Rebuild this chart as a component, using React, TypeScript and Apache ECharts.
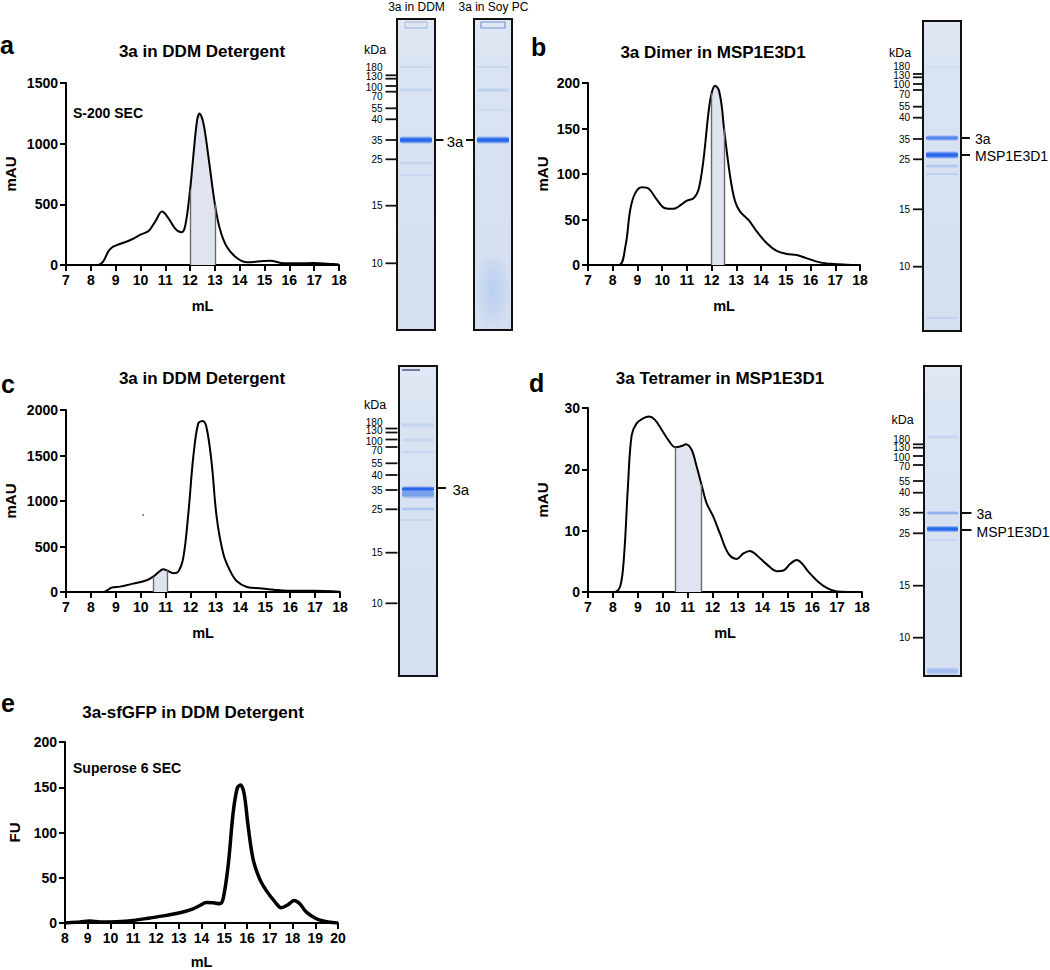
import React, { useEffect, useRef } from 'react';
import * as echarts from 'echarts';

const FONT = '"Liberation Sans", Arial, Helvetica, sans-serif';

// ---------- DATA ----------
const panelLetters = ['a', 'b', 'c', 'd', 'e'];
const panelTitles = ['3a in DDM Detergent', '3a Dimer in MSP1E3D1', '3a in DDM Detergent', '3a Tetramer in MSP1E3D1', '3a-sfGFP in DDM Detergent'];
const yAxisNames = ['mAU', 'mAU', 'mAU', 'mAU', 'FU'];
const xAxisName = 'mL';
const columnNotes = ['S-200 SEC', 'Superose 6 SEC'];

const volA = [7, 8, 8.3, 8.5, 8.7, 8.85, 9, 9.6, 10, 10.33, 10.6, 10.87, 11.13, 11.4, 11.64, 11.8, 12, 12.14, 12.28, 12.38, 12.54, 12.74, 13, 13.21, 13.48, 13.9, 14.3, 14.96, 15.23, 15.77, 16.4, 16.97, 17.78, 18];
const mauA = [0, 0, 0, 30, 110, 145, 160, 206, 250, 280, 360, 440, 385, 300, 270, 320, 620, 920, 1190, 1248, 1165, 890, 500, 290, 150, 55, 22, 33, 36, 14, 14, 16, 8, 5];

const volB = [7, 8.24, 8.51, 8.71, 8.91, 9.18, 9.45, 9.79, 10.12, 10.46, 10.8, 11, 11.27, 11.47, 11.67, 11.87, 12, 12.14, 12.28, 12.41, 12.5, 12.75, 12.95, 13.15, 13.49, 13.83, 14.23, 14.63, 15.04, 15.44, 15.85, 16.38, 16.92, 17.46, 18];
const mauB = [0, 0, 20, 61, 79, 85.5, 84, 71.6, 62.4, 61.7, 67, 70.8, 73.4, 82.6, 115.6, 167, 189, 197, 193, 174, 150, 97, 69.7, 58.7, 49.5, 36.7, 23.9, 15.4, 12.1, 11, 7.3, 2.9, 1.1, 0.4, 0];

const volC = [7, 8.5, 8.83, 9.17, 9.7, 10.24, 10.5, 10.7, 10.9, 11.05, 11.31, 11.51, 11.71, 11.91, 12.11, 12.31, 12.49, 12.65, 12.85, 13.05, 13.32, 13.59, 13.85, 14.26, 14.79, 15.33, 15.86, 16.93, 18];
const mauC = [0, 0, 48, 59, 92, 129, 169, 214, 250, 238, 206, 225, 379, 858, 1484, 1853, 1878, 1797, 1411, 821, 416, 232, 121, 55, 40, 26, 15, 15, 4];

const volD = [7, 8.07, 8.3, 8.45, 8.6, 8.75, 8.95, 9.21, 9.45, 9.68, 9.95, 10.22, 10.5, 10.76, 10.93, 11.16, 11.36, 11.55, 11.76, 12.03, 12.3, 12.63, 12.97, 13.24, 13.5, 13.77, 14.18, 14.58, 14.85, 15.12, 15.38, 15.58, 15.85, 16.26, 16.66, 17, 18];
const mauD = [0, 0, 1, 6, 17, 25.5, 27.5, 28.3, 28.6, 28.1, 26.5, 24.8, 23.6, 23.8, 24.1, 23.2, 20.5, 17.6, 14.5, 12.3, 9.5, 6.3, 5.4, 6.3, 6.7, 6.0, 4.5, 3.4, 3.5, 4.6, 5.2, 4.7, 3.3, 1.6, 0.5, 0.1, 0];

const volE = [8, 8.5, 9.1, 9.54, 10.27, 11, 11.73, 12.46, 13.05, 13.63, 13.93, 14.22, 14.51, 14.8, 14.95, 15.17, 15.39, 15.57, 15.71, 15.87, 16.05, 16.27, 16.56, 16.85, 17.22, 17.51, 17.8, 18.07, 18.32, 18.61, 19.05, 19.56, 20];
const fuE = [0, 0.7, 2.2, 1.1, 1.5, 2.9, 5.5, 8.4, 11.3, 15.7, 19.3, 22.6, 22.3, 21.2, 26.6, 63.1, 121.5, 148.9, 152.6, 143.4, 106.9, 70.4, 48.5, 35.8, 23.7, 16.8, 20.1, 24.8, 21.2, 12, 4.7, 1.1, 0];

// collected fraction ranges (mL)
const fractionA = [12, 13];
const fractionB = [12, 12.5];
const fractionC = [10.5, 11.05];
const fractionD = [10.5, 11.55];

// axis ranges
const yMaxes = [1500, 200, 2000, 30, 200];
const yIntervals = [500, 50, 500, 10, 50];
const xMins = [7, 7, 7, 7, 8];
const xMaxes = [18, 18, 18, 18, 20];

// gel marker ladder
const ladderKDa = ['180', '130', '100', '70', '55', '40', '35', '25', '15', '10'];
const laneTitles = ['3a in DDM', '3a in Soy PC'];
const bandNames = ['3a', 'MSP1E3D1'];

// ---------- LAYOUT ----------
const grids = [
  { left: 66, top: 83, width: 273, height: 182 },
  { left: 588, top: 83, width: 272, height: 182 },
  { left: 66, top: 410, width: 274, height: 182 },
  { left: 588, top: 408, width: 274, height: 184 },
  { left: 65, top: 742, width: 273, height: 182 },
];
const yNameGaps = [48, 38, 48, 38, 43];
const xNameGaps = [33, 33, 33, 33, 31];
const lineWidths = [2, 2, 2, 2, 3.5];
const titlePos = [[202, 51], [713, 52], [202, 378], [720, 378], [193, 712]];
const letterPos = [[0, 45], [531, 47], [1, 384], [529, 383], [1, 703]];

const zip = (xs: number[], ys: number[]) => xs.map((x, i) => [x, ys[i]]);
const yAt = (xs: number[], ys: number[], x: number) => ys[xs.indexOf(x)];

function txt(x: number, y: number, s: string, size: number, opts: any = {}) {
  const align = opts.align || 'center';
  const va = opts.va || 'middle';
  return {
    type: 'text', x, y, silent: true, z: 10,
    style: {
      text: s, fill: opts.color || '#000',
      font: `${opts.weight || 'normal'} ${size}px ${FONT}`,
      align, textAlign: align, verticalAlign: va, textVerticalAlign: va,
    },
  };
}
function seg(x1: number, y1: number, x2: number, y2: number, w = 1.6, color = '#111') {
  return { type: 'line', silent: true, z: 10, shape: { x1, y1, x2, y2 }, style: { stroke: color, lineWidth: w } };
}
function band(x: number, w: number, y: number, h: number, alpha: number, rgb = '40,105,235') {
  return {
    type: 'rect', silent: true, z: 6,
    shape: { x: x + 3, y: y - h / 2, width: w - 6, height: h, r: h / 2.5 },
    style: {
      fill: new echarts.graphic.LinearGradient(0, 0, 0, 1, [
        { offset: 0, color: `rgba(${rgb},0)` },
        { offset: 0.35, color: `rgba(${rgb},${alpha})` },
        { offset: 0.65, color: `rgba(${rgb},${alpha})` },
        { offset: 1, color: `rgba(${rgb},0)` },
      ]),
    },
  };
}
function lane(x: number, y: number, w: number, h: number, bands: number[][], extra: any[] = []) {
  const els: any[] = [
    {
      type: 'rect', silent: true, z: 5, shape: { x, y, width: w, height: h },
      style: {
        fill: new echarts.graphic.LinearGradient(0, 0, 0, 1, [
          { offset: 0, color: '#e1e8f4' },
          { offset: 0.15, color: '#dae3f2' },
          { offset: 1, color: '#d5dff0' },
        ]),
      },
    },
  ];
  bands.forEach((b) => els.push(band(x, w, b[0], b[1], b[2])));
  extra.forEach((e) => els.push(e));
  els.push({ type: 'rect', silent: true, z: 8, shape: { x, y, width: w, height: h }, style: { fill: 'none', stroke: '#111', lineWidth: 2 } });
  return els;
}
function ladder(labelRight: number, tickX1: number, tickX2: number, labelYs: number[], tickYs: number[], kdaX: number, kdaY: number) {
  const els: any[] = [txt(kdaX, kdaY, 'kDa', 12.5, { align: 'left' })];
  ladderKDa.forEach((k, i) => els.push(txt(labelRight, labelYs[i], k, 10, { align: 'right' })));
  tickYs.forEach((ty) => els.push(seg(tickX1, ty, tickX2, ty, 1.8)));
  return els;
}

function buildOption() {
  const datasets = [zip(volA, mauA), zip(volB, mauB), zip(volC, mauC), zip(volD, mauD), zip(volE, fuE)];
  const fractions = [fractionA, fractionB, fractionC, fractionD];
  const fx = [volA, volB, volC, volD];
  const fy = [mauA, mauB, mauC, mauD];

  const axisText = { color: '#000', fontFamily: FONT, fontWeight: 'bold', fontSize: 14, formatter: (v: number) => String(v) };
  const nameText = { color: '#000', fontFamily: FONT, fontWeight: 'bold', fontSize: 14.5 };
  const axisLine = { show: true, onZero: false, lineStyle: { color: '#000', width: 2 } };
  const axisTick = { show: true, length: 6, lineStyle: { color: '#000', width: 2 } };

  const xAxis = grids.map((_, i) => ({
    type: 'value', gridIndex: i, min: xMins[i], max: xMaxes[i], interval: 1,
    name: xAxisName, nameLocation: 'middle', nameGap: xNameGaps[i], nameTextStyle: nameText,
    axisLine, axisTick, axisLabel: { ...axisText, margin: 8 }, splitLine: { show: false },
  }));
  const yAxis = grids.map((_, i) => ({
    type: 'value', gridIndex: i, min: 0, max: yMaxes[i], interval: yIntervals[i],
    name: yAxisNames[i], nameLocation: 'middle', nameGap: yNameGaps[i], nameTextStyle: { ...nameText, fontSize: 15 },
    axisLine, axisTick, axisLabel: { ...axisText, margin: 8 }, splitLine: { show: false },
  }));

  const series: any[] = [];
  const visualMap: any[] = [];
  for (let i = 0; i < 5; i++) {
    if (i < 4) {
      const [f1, f2] = fractions[i];
      visualMap.push({
        type: 'piecewise', show: false, dimension: 0, seriesIndex: series.length,
        pieces: [{ gte: f1, lte: f2, color: '#dfe4f0' }],
        outOfRange: { color: 'rgba(255,255,255,0)' },
      });
      series.push({
        type: 'line', xAxisIndex: i, yAxisIndex: i, data: datasets[i], smooth: 0.35,
        symbol: 'none', lineStyle: { width: 0 }, areaStyle: { opacity: 1 }, z: 1, silent: true,
        markLine: {
          silent: true, symbol: ['none', 'none'], label: { show: false }, animation: false,
          lineStyle: { color: '#6a6a6a', width: 1.4, type: 'solid' },
          data: [
            [{ coord: [f1, 0] }, { coord: [f1, yAt(fx[i], fy[i], f1)] }],
            [{ coord: [f2, 0] }, { coord: [f2, yAt(fx[i], fy[i], f2)] }],
          ],
        },
      });
    }
    series.push({
      type: 'line', xAxisIndex: i, yAxisIndex: i, data: datasets[i], smooth: 0.35,
      symbol: 'none', lineStyle: { color: '#000', width: lineWidths[i] }, z: 3, silent: true,
      itemStyle: { color: '#000' },
    });
  }

  const graphic: any[] = [];
  panelTitles.forEach((t, i) => graphic.push(txt(titlePos[i][0], titlePos[i][1], t, 17, { weight: 'bold' })));
  panelLetters.forEach((l, i) => graphic.push(txt(letterPos[i][0], letterPos[i][1], l, 25, { weight: 'bold', align: 'left' })));
  graphic.push(txt(73, 113, columnNotes[0], 14, { weight: 'bold', align: 'left' }));
  graphic.push(txt(73, 768, columnNotes[1], 14, { weight: 'bold', align: 'left' }));
  graphic.push({ type: 'circle', silent: true, shape: { cx: 143, cy: 515, r: 0.8 }, style: { fill: '#555' } });

  // gel a (two lanes)
  graphic.push(txt(416.5, 7, laneTitles[0], 12));
  graphic.push(txt(493.5, 7, laneTitles[1], 12));
  graphic.push(...lane(397, 19, 38, 311, [[140, 8, 1], [67, 2, 0.12], [90, 5, 0.1], [163, 4, 0.1], [175, 3, 0.08]],
    [{ type: 'rect', silent: true, z: 7, shape: { x: 405, y: 22, width: 22, height: 6 }, style: { fill: 'none', stroke: 'rgba(90,130,215,0.5)', lineWidth: 1 } }]));
  graphic.push(...lane(474, 19, 38, 311, [[140, 8, 1], [67, 2, 0.12], [90, 5, 0.14], [110, 3, 0.06]],
    [
      { type: 'rect', silent: true, z: 7, shape: { x: 481, y: 22, width: 24, height: 6 }, style: { fill: 'none', stroke: 'rgba(60,100,200,0.6)', lineWidth: 1.2 } },
      { type: 'rect', silent: true, z: 6, shape: { x: 477, y: 258, width: 32, height: 70 },
        style: { fill: new echarts.graphic.RadialGradient(0.5, 0.45, 0.6, [{ offset: 0, color: 'rgba(150,185,240,0.45)' }, { offset: 1, color: 'rgba(150,185,240,0)' }]) } },
    ]));
  graphic.push(...ladder(382.5, 385.5, 397, [67.7, 76.7, 87.3, 96.7, 108.3, 119.3, 140, 159.3, 205.7, 263.3], [75.3, 78.7, 86, 91.7, 108.3, 119.3, 140, 159.3, 205.7, 263.3], 364, 50));
  graphic.push(seg(435.5, 140, 443.5, 140, 2));
  graphic.push(txt(455, 141, bandNames[0], 15));
  graphic.push(seg(466, 140, 474, 140, 2));

  // gel b
  graphic.push(...lane(923, 21, 38, 310, [[138, 6, 0.75], [155, 8, 1], [166, 4, 0.22], [174, 3, 0.15], [318, 3, 0.12], [67, 2, 0.08]]));
  graphic.push(...ladder(910, 913, 923, [66, 75, 84, 94, 106.7, 117.7, 139, 159.3, 209.3, 266.7], [74, 77.3, 84, 90, 106.7, 117.7, 139, 159.3, 209.3, 266.7], 889, 53));
  graphic.push(seg(961.5, 138, 970, 138, 2));
  graphic.push(seg(961.5, 155, 970, 155, 2));
  graphic.push(txt(975, 139, bandNames[0], 14, { align: 'left' }));
  graphic.push(txt(975, 156, bandNames[1], 14, { align: 'left' }));

  // gel c
  graphic.push(...lane(399, 366, 38, 310, [[489, 6, 1], [494, 10, 0.55], [425, 6, 0.12], [440, 4, 0.12], [452, 3, 0.1], [509, 4, 0.22], [520, 3, 0.12]],
    [seg(402, 370, 420, 370, 1.5, 'rgba(30,50,110,0.8)')]));
  graphic.push(...ladder(382.5, 385.5, 397.5, [422.3, 430.7, 441.7, 450, 463.3, 475, 490, 509.3, 552.7, 603.3], [428.5, 432.5, 439.5, 447, 463.3, 475, 490, 509.3, 552.7, 603.3], 364, 405));
  graphic.push(seg(437, 488, 446, 488, 2));
  graphic.push(txt(452.5, 489, bandNames[0], 15, { align: 'left' }));

  // gel d
  graphic.push(...lane(924, 366, 37, 310, [[513, 4, 0.4], [529, 7, 1], [437, 4, 0.1], [540, 3, 0.1], [671, 8, 0.3]]));
  graphic.push(...ladder(910, 913, 924, [439, 447.7, 457.3, 466.7, 481, 492.7, 512.7, 533.3, 585.7, 637.7], [444.3, 447.7, 456, 465, 481, 492.7, 512.7, 533.3, 585.7, 637.7], 891.5, 420));
  graphic.push(seg(961.5, 513, 971.5, 513, 2));
  graphic.push(seg(961.5, 530, 971.5, 530, 2));
  graphic.push(txt(976.5, 514, bandNames[0], 14, { align: 'left' }));
  graphic.push(txt(976.5, 531.5, bandNames[1], 14, { align: 'left' }));

  return {
    animation: false,
    backgroundColor: '#ffffff',
    textStyle: { fontFamily: FONT },
    grid: grids.map((g) => ({ ...g, containLabel: false })),
    xAxis, yAxis, series, visualMap, graphic,
  };
}

export default function App() {
  const ref = useRef<HTMLDivElement>(null);
  useEffect(() => {
    const chart = echarts.init(ref.current!, null, { renderer: 'svg' });
    chart.setOption(buildOption() as any);
    return () => chart.dispose();
  }, []);
  return <div ref={ref} style={{ position: 'absolute', left: 0, top: 0, width: 1050, height: 970, background: '#fff' }} />;
}
